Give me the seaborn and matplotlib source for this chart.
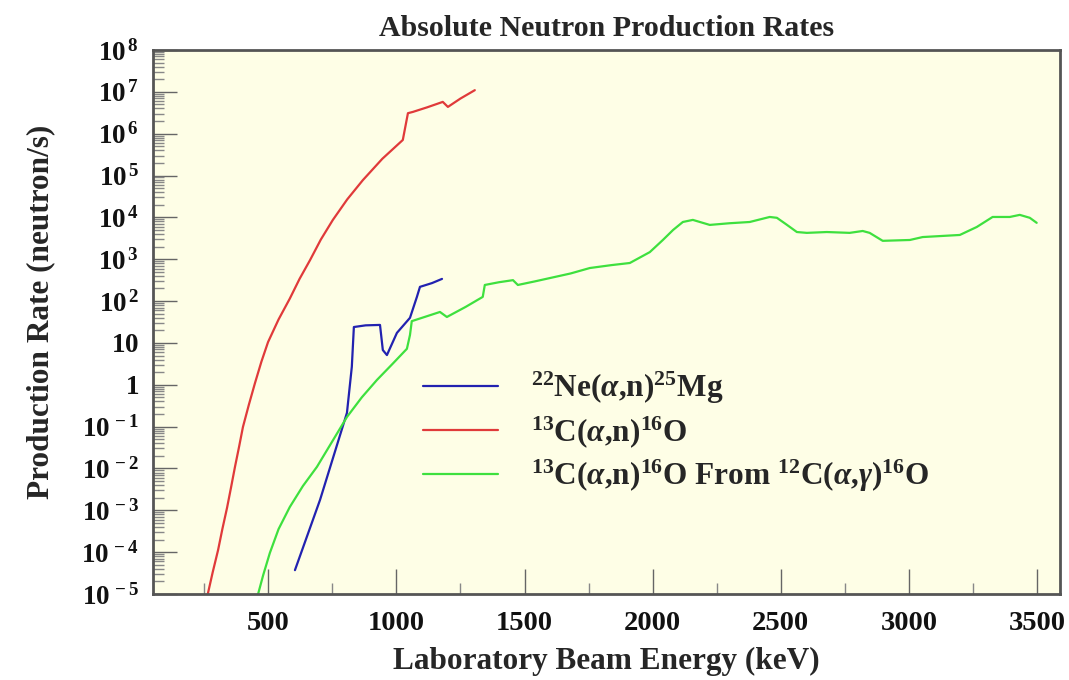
import numpy as np
import pandas as pd
import matplotlib
matplotlib.use("Agg")
import matplotlib.pyplot as plt
from matplotlib.ticker import FixedLocator, FuncFormatter, LogLocator, NullFormatter
from matplotlib.lines import Line2D
import seaborn as sns

# ---- data (energy in keV, rate in neutron/s) ----
ne22_energy = [604, 702, 807, 826, 834, 880, 936, 947, 963, 1002, 1053, 1080, 1092, 1139, 1178]
ne22_rate = [10**-4.43, 10**-2.75, 10**-0.67, 10**0.43, 10**1.38, 10**1.42, 10**1.43, 10**0.83,
             10**0.71, 10**1.24, 10**1.60, 10**2.10, 10**2.34, 10**2.43, 10**2.53]

c13_energy = [262, 283, 304, 321, 339, 355, 370, 386, 401, 424, 448, 473, 499, 540, 584, 622, 663,
              705, 752, 808, 869, 945, 1025, 1045, 1064, 1120, 1181, 1201, 1250, 1306]
c13_rate = [10**-5.05, 10**-4.48, 10**-3.95, 10**-3.44, 10**-2.94, 10**-2.44, 10**-1.96, 10**-1.48,
            10**-1.01, 10**-0.48, 10**0.04, 10**0.55, 10**1.02, 10**1.56, 10**2.06, 10**2.53,
            10**2.98, 10**3.47, 10**3.94, 10**4.43, 10**4.89, 10**5.40, 10**5.85, 10**6.49,
            10**6.52, 10**6.63, 10**6.76, 10**6.64, 10**6.84, 10**7.04]

c12_energy = [458, 480, 506, 540, 584, 635, 690, 750, 807, 865, 924, 985, 1041, 1053, 1060, 1115,
              1170, 1197, 1270, 1337, 1345, 1400, 1455, 1474, 1540, 1599, 1680, 1755, 1840, 1911,
              1989, 2040, 2080, 2118, 2157, 2223, 2300, 2379, 2457, 2485, 2520, 2563, 2602, 2680,
              2769, 2820, 2847, 2898, 3004, 3054, 3199, 3265, 3327, 3394, 3433, 3472, 3499]
c12_rate = [10**-5.05, 10**-4.55, 10**-4.02, 10**-3.45, 10**-2.92, 10**-2.42, 10**-1.96, 10**-1.35,
            10**-0.77, 10**-0.30, 10**0.115, 10**0.50, 10**0.86, 10**1.19, 10**1.52, 10**1.63,
            10**1.74, 10**1.62, 10**1.86, 10**2.10, 10**2.385, 10**2.45, 10**2.50, 10**2.385,
            10**2.47, 10**2.55, 10**2.66, 10**2.79, 10**2.86, 10**2.91, 10**3.17, 10**3.46,
            10**3.70, 10**3.89, 10**3.94, 10**3.82, 10**3.86, 10**3.89, 10**4.01, 10**3.99,
            10**3.84, 10**3.65, 10**3.63, 10**3.65, 10**3.63, 10**3.675, 10**3.63, 10**3.44,
            10**3.46, 10**3.53, 10**3.58, 10**3.77, 10**4.01, 10**4.01, 10**4.06, 10**3.99,
            10**3.87]

series_labels = [r"$^{\mathbf{22}}$Ne($\alpha$,n)$^{\mathbf{25}}$Mg",
                 r"$^{\mathbf{13}}$C($\alpha$,n)$^{\mathbf{16}}$O",
                 r"$^{\mathbf{13}}$C($\alpha$,n)$^{\mathbf{16}}$O From $^{\mathbf{12}}$C($\alpha$,$\gamma$)$^{\mathbf{16}}$O"]
series_colors = ["#2222b0", "#e03a3a", "#3ee03e"]

x_ticks = [500, 1000, 1500, 2000, 2500, 3000, 3500]
y_exponents = list(range(-5, 9))

title = "Absolute Neutron Production Rates"
xlabel = "Laboratory Beam Energy (keV)"
ylabel = "Production Rate (neutron/s)"

# ---- style ----
sns.set_style("ticks")
plt.rcParams["font.family"] = ["Liberation Serif", "DejaVu Serif"]
plt.rcParams["mathtext.fontset"] = "custom"
plt.rcParams["mathtext.rm"] = "Liberation Serif:bold"
plt.rcParams["mathtext.bf"] = "Liberation Serif:bold"
plt.rcParams["mathtext.it"] = "Liberation Serif:italic:bold"

fig = plt.figure(figsize=(10.69, 6.80), dpi=100)
ax = fig.add_axes([153/1069, 1-594/680, (1060-153)/1069, (594-50)/680])
ax.set_facecolor("#fefee6")

frames = [
    pd.DataFrame({"energy": ne22_energy, "rate": ne22_rate}),
    pd.DataFrame({"energy": c13_energy, "rate": c13_rate}),
    pd.DataFrame({"energy": c12_energy, "rate": c12_rate}),
]
for df, col in zip(frames, series_colors):
    sns.lineplot(data=df, x="energy", y="rate", ax=ax, color=col, lw=1.6,
                 sort=False, estimator=None)

ax.set_yscale("log")
ax.set_xlim(50, 3590)
ax.set_ylim(1e-5, 1e8)

ax.xaxis.set_major_locator(FixedLocator(x_ticks))
ax.xaxis.set_minor_locator(FixedLocator([250 + 500*i for i in range(7)]))
ax.set_xticklabels([str(t) for t in x_ticks], fontsize=20.5, fontweight="bold")

def yfmt(v, pos):
    e = int(round(np.log10(v)))
    if e == 0:
        return r"$\mathbf{1}$"
    if e == 1:
        return r"$\mathbf{10}$"
    return r"$\mathbf{10^{\,%d}}$" % e

ax.yaxis.set_major_locator(FixedLocator([10.0**e for e in y_exponents]))
ax.yaxis.set_major_formatter(FuncFormatter(yfmt))
ax.yaxis.set_minor_locator(LogLocator(base=10, subs=np.arange(2, 10), numticks=100))
ax.yaxis.set_minor_formatter(NullFormatter())
for lab in ax.get_yticklabels():
    lab.set_fontsize(19.5)

ax.tick_params(axis="both", which="major", direction="in", length=18, width=1.0,
               color="#666666", pad=12, labelcolor="#111111")
ax.tick_params(axis="both", which="minor", direction="in", length=8, width=1.0,
               color="#888888")
ax.tick_params(axis="y", which="major", length=17, pad=10)
ax.tick_params(axis="y", which="minor", length=8)
for s in ax.spines.values():
    s.set_visible(True)
    s.set_color("#555555")
    s.set_linewidth(2.0)

ax.set_xlabel(xlabel, fontsize=22.5, fontweight="bold", labelpad=8)
ax.set_ylabel(ylabel, fontsize=22.5, fontweight="bold")
ax.yaxis.set_label_coords((55 - 153) / 907, (594 - 312) / 544)
ax.set_title(title, fontsize=21.5, fontweight="bold", pad=10)

handles = [Line2D([], [], color=c, lw=1.6) for c in series_colors]
ax.legend(handles, series_labels, loc="upper left",
          bbox_to_anchor=(423/1069, 1-370/680), bbox_transform=fig.transFigure,
          frameon=False, prop={"weight": "bold", "size": 22.5},
          handlelength=2.4, handletextpad=1.05, labelspacing=0.25, borderpad=0,
          borderaxespad=0)

fig.savefig("out.png", dpi=100)
